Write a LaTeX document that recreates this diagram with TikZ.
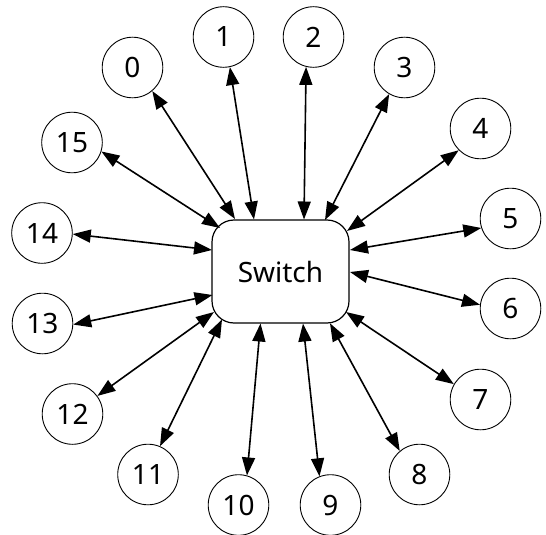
\documentclass[tikz,border=0pt]{standalone}
\usepackage{fontspec}
\setmainfont{Noto Sans}
\usetikzlibrary{arrows.meta}

\tikzset{
  port/.style={circle, draw, line width=0.9pt, minimum size=60.6pt, inner sep=0pt,
               font=\fontsize{28}{32}\selectfont},
  hub/.style={rectangle, draw, line width=1.2pt, rounded corners=22pt,
              minimum width=137pt, minimum height=103pt, inner sep=0pt,
              font=\fontsize{28}{32}\selectfont},
  link/.style={line width=1.6pt, {Triangle[length=18pt,width=13pt]}-{Triangle[length=18pt,width=13pt]}}
}

\begin{document}
\begin{tikzpicture}[x=1pt, y=-1pt]
\useasboundingbox (0,0) rectangle (546,535);

% central switch
\node[hub] (sw) at (280.5,271.5) {Switch};

% the sixteen ports
\node[port] (p0)  at (132.5, 67.5) {0};
\node[port] (p1)  at (223.5, 37)   {1};
\node[port] (p2)  at (313.5, 37)   {2};
\node[port] (p3)  at (404.5, 67.5) {\bfseries 3};
\node[port] (p4)  at (480.5,128.5) {4};
\node[port] (p5)  at (510.5,218.5) {5};
\node[port] (p6)  at (510.5,308.5) {6};
\node[port] (p7)  at (480.5,399.5) {7};
\node[port] (p8)  at (419.5,474.5) {8};
\node[port] (p9)  at (330.5,505)   {9};
\node[port] (p10) at (238.5,505)   {10};
\node[port] (p11) at (148,  474.5) {11};
\node[port] (p12) at (72.5, 414)   {12};
\node[port] (p13) at (42.5, 323.5) {13};
\node[port] (p14) at (42,   233)   {14};
\node[port] (p15) at (72,   142.5) {15};

% links between each port and the switch
\draw[link] (p0.-50.5)   -- ([shift={(-45.5,-52.5)}]sw.center);
\draw[link] (p1.-78)     -- ([shift={(-26.5,-52)}]sw.center);
\draw[link] (p2.-104)    -- ([shift={(23.5,-52)}]sw.center);
\draw[link] (p3.-120)    -- ([shift={(44.5,-51.5)}]sw.center);
\draw[link] (p4.-135)    -- ([shift={(66.5,-40.5)}]sw.center);
\draw[link] (p5.198)     -- ([shift={(69.5,-21.5)}]sw.center);
\draw[link] (p6.173.5)   -- ([shift={(69.5,0.5)}]sw.center);
\draw[link] (p7.150.6)   -- ([shift={(65.5,40.5)}]sw.center);
\draw[link] (p8.130.3)   -- ([shift={(49.5,51.8)}]sw.center);
\draw[link] (p9.111.6)   -- ([shift={(22.5,52)}]sw.center);
\draw[link] (p10.74.7)   -- ([shift={(-20,52)}]sw.center);
\draw[link] (p11.67.2)   -- ([shift={(-58.5,48)}]sw.center);
\draw[link] (p12.36.4)   -- ([shift={(-66.5,40.5)}]sw.center);
\draw[link] (p13.-2.8)   -- ([shift={(-68,23.5)}]sw.center);
\draw[link] (p14.-2.4)   -- ([shift={(-68.5,-21.5)}]sw.center);
\draw[link] (p15.-17.9)  -- ([shift={(-60.5,-43.5)}]sw.center);
\end{tikzpicture}
\end{document}
